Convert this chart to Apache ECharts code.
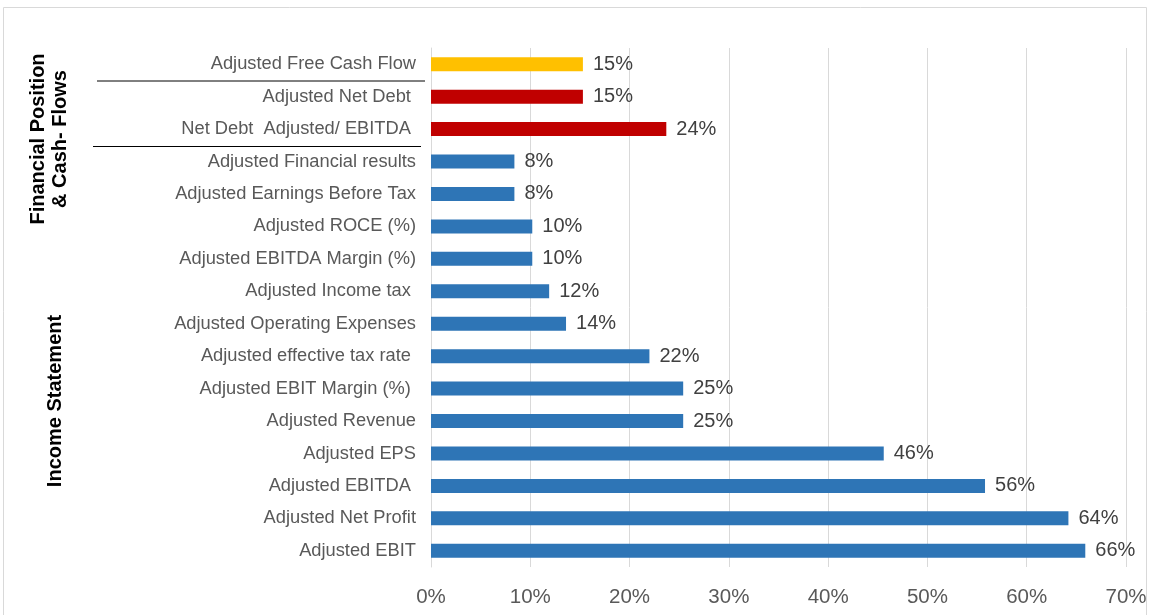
<!DOCTYPE html>
<html>
<head>
<meta charset="utf-8">
<script src="https://cdn.jsdelivr.net/npm/echarts@6/dist/echarts.min.js"></script>
<style>
  html, body { margin: 0; padding: 0; background: #fff; }
  #chart { width: 1150px; height: 615px; }
</style>
</head>
<body>
<div id="chart"></div>
<script>
// categories, top to bottom
var categories = [
  'Adjusted Free Cash Flow',
  'Adjusted Net Debt ',
  'Net Debt  Adjusted/ EBITDA ',
  'Adjusted Financial results',
  'Adjusted Earnings Before Tax',
  'Adjusted ROCE (%)',
  'Adjusted EBITDA Margin (%)',
  'Adjusted Income tax ',
  'Adjusted Operating Expenses',
  'Adjusted effective tax rate ',
  'Adjusted EBIT Margin (%) ',
  'Adjusted Revenue',
  'Adjusted EPS',
  'Adjusted EBITDA ',
  'Adjusted Net Profit',
  'Adjusted EBIT'
];
// share of respondents (%)
var values = [15.3, 15.3, 23.7, 8.4, 8.4, 10.2, 10.2, 11.9, 13.6, 22.0, 25.4, 25.4, 45.6, 55.8, 64.2, 65.9];
// bar group per category
var groups = ['fcf', 'debt', 'debt', 'inc', 'inc', 'inc', 'inc', 'inc', 'inc', 'inc', 'inc', 'inc', 'inc', 'inc', 'inc', 'inc'];
var groupColors = { fcf: '#FFC000', debt: '#C00000', inc: '#2E75B6' };
var xTicks = [0, 10, 20, 30, 40, 50, 60, 70];

var myChart = echarts.init(document.getElementById('chart'));

var barData = values.map(function (v, i) {
  return { value: v, itemStyle: { color: groupColors[groups[i]] } };
});

var option = {
  animation: false,
  grid: { left: 431, right: 24, top: 48, bottom: 48, containLabel: false },
  xAxis: {
    type: 'value',
    min: xTicks[0],
    max: xTicks[xTicks.length - 1],
    interval: 10,
    axisLine: { show: false },
    axisTick: { show: false },
    splitLine: { lineStyle: { color: '#d9d9d9', width: 1 } },
    axisLabel: {
      formatter: '{value}%',
      color: '#595959',
      fontSize: 20.5,
      fontFamily: 'Liberation Sans',
      margin: 20
    }
  },
  yAxis: {
    type: 'category',
    data: categories,
    inverse: true,
    axisLine: { show: true, lineStyle: { color: '#d9d9d9' } },
    axisTick: { show: false },
    axisLabel: {
      color: '#595959',
      fontSize: 18.3,
      fontFamily: 'Liberation Sans',
      margin: 15
    }
  },
  series: [{
    type: 'bar',
    data: barData,
    barWidth: 14,
    label: {
      show: true,
      position: 'right',
      distance: 10,
      color: '#404040',
      fontSize: 20,
      fontFamily: 'Liberation Sans',
      formatter: function (p) { return Math.round(p.value) + '%'; }
    }
  }],
  graphic: [
    { type: 'rect', shape: { x: 3.5, y: 7.5, width: 1143, height: 620 },
      style: { fill: 'none', stroke: '#d9d9d9', lineWidth: 1 }, silent: true },
    { type: 'line', shape: { x1: 97, y1: 81, x2: 425, y2: 81 },
      style: { stroke: '#000', lineWidth: 1 } },
    { type: 'line', shape: { x1: 93, y1: 146.5, x2: 421, y2: 146.5 },
      style: { stroke: '#000', lineWidth: 1 } },
    { type: 'text', x: 38, y: 139, rotation: Math.PI / 2,
      style: { text: 'Financial Position', font: 'bold 20px Liberation Sans', fill: '#000',
               align: 'center', verticalAlign: 'middle' } },
    { type: 'text', x: 60, y: 139, rotation: Math.PI / 2,
      style: { text: '& Cash- Flows', font: 'bold 20px Liberation Sans', fill: '#000',
               align: 'center', verticalAlign: 'middle' } },
    { type: 'text', x: 55, y: 401, rotation: Math.PI / 2,
      style: { text: 'Income Statement', font: 'bold 20px Liberation Sans', fill: '#000',
               align: 'center', verticalAlign: 'middle' } }
  ]
};

myChart.setOption(option);
</script>
</body>
</html>
